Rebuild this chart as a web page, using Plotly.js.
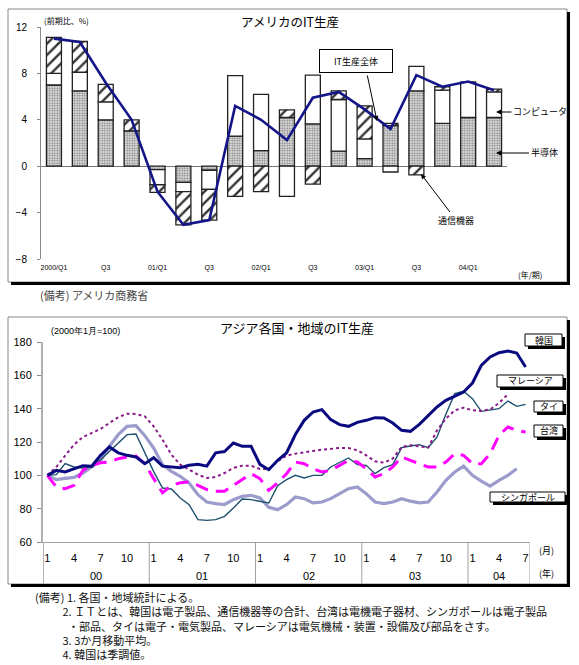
<!DOCTYPE html>
<html><head><meta charset="utf-8">
<script src="https://cdn.plot.ly/plotly-3.0.1.min.js"></script>
<style>html,body{margin:0;padding:0;background:#fff;}#chart{width:579px;height:665px;}</style>
</head><body><div id="chart"></div>
<script>
// ---------- Top chart data: US IT production (q/q %, 2000Q1 - 2004Q2) ----------
const quarterLabels = ['2000/Q1','','Q3','','01/Q1','','Q3','','02/Q1','','Q3','','03/Q1','','Q3','','04/Q1',''];
const semiconductors = [7.0, 6.5, 4.0, 3.05, -0.3, -1.4, -0.35, 2.6, 1.35, 4.2, 3.65, 1.3, 0.65, 3.5, 6.5, 3.7, 4.2, 4.2];
const computers      = [1.0, 1.6, 1.55, 0.0, -1.3, -0.8, -1.65, 5.2, 4.85, -2.6, 4.2, 4.45, 1.7, -0.5, 2.1, 2.85, 3.05, 2.2];
const commEquipment  = [3.1, 2.65, 1.5, 0.95, -0.65, -2.85, -2.65, -2.6, -2.2, 0.65, -1.55, 0.75, 2.85, 0.2, -0.75, 0.3, 0.0, 0.25];
const itTotal        = [11.0, 10.7, 7.2, 4.0, -2.2, -5.05, -4.65, 5.2, 4.0, 2.25, 5.9, 6.4, 4.9, 3.2, 7.85, 6.85, 7.3, 6.55];

// ---------- Bottom chart data: Asian IT production (Jan 2000 = 100, monthly) ----------
const yearLabels = ['00','01','02','03','04'];
const korea = [100,103,102,104,105.8,105.5,112,117,113.5,112,111,107,110.6,105.5,105,104.6,106,106.6,105.5,113.5,114.3,119.4,117.4,117.4,106.6,103.4,109,113.4,124.5,133,138,139.4,133.4,130.4,129.4,131.8,133,134.6,134.4,131.4,127,126.4,130.6,136,141,145,147.4,150,155.4,166,171,173.6,174.6,173.4,165];
const malaysia = [100,105,111.8,118.4,123,125.4,127.8,131.4,134.8,137,136.8,135.4,129.4,121.4,112.4,106.4,103.4,100.4,98.4,99,101.4,104.4,105.8,105.8,103.8,103.8,108.4,111.8,113,114,114.6,115.4,116,116.4,116.4,115,112,108.4,107.6,110,117,118,117.4,116.6,127,134,139,140.6,139,138.6,139.6,143.4,148.6];
const thailand = [100,100.4,107,105,104.4,105,109.4,114.4,119.4,124.4,124.8,113.4,102.2,92.4,91.8,86.4,82.4,73.4,73,73.4,75.4,80.4,85.8,85.4,84.4,83.4,93.8,97.4,100,98.4,100,100,105,107.6,110.4,106.4,106,101,104.6,106.4,116.6,117.6,118.4,116.6,123,136.6,149,150.4,146,138.4,139.4,140,144.6,141.4,142.6];
const taiwan = [100,93,92,94,103,106,107.5,108,110,111,111.5,107,98,89.5,94,95.5,96,94,91.5,90.5,90.5,94,98,101,98,91,95.5,101,108,107,104,102,103,106,109,108,104,99,101,105,111,109,107,105,105,108,113,112,107,107,113,124,129,127,126];
const singapore = [100,97.4,98.2,98.8,101.4,105,108.8,117.4,124.4,129.4,129.8,123.8,116.4,106.4,102.4,99.4,95.4,88.4,84,83,82.5,85.4,87.4,88,86.4,80.8,79.4,82.4,87,86,83.5,84,86,89,92,93,89,84,83,84,86,84.5,83.5,84,90,97,102,105.5,100,96.5,93.5,97,100,104];

// ---------- Footnote lines ----------
const noteLines = [
  '(備考) 1. 各国・地域統計による。',
  '2. ＩＴとは、韓国は電子製品、通信機器等の合計、台湾は電機電子器材、シンガポールは電子製品',
  '・部品、タイは電子・電気製品、マレーシアは電気機械・装置・設備及び部品をさす。',
  '3. 3か月移動平均。',
  '4. 韓国は季調値。'
];
const noteIndents = ['', '\u3000\u3000\u2002', '\u3000\u3000\u3000', '\u3000\u3000\u2002', '\u3000\u3000\u2002'];

const W = 579, H = 665;
const PX = v => v / W, PY = v => 1 - v / H;
const JP = '"Noto Sans CJK JP", "Liberation Sans", sans-serif';
const NUM = '"Liberation Sans", Arial, sans-serif';

const qIdx = quarterLabels.map((_, i) => i);
const monthIdx = n => Array.from({length: n}, (_, i) => i);
const monthTicks = monthIdx(55);
const monthText = monthTicks.map(i => { const m = i % 12 + 1; return (m % 3 === 1) ? String(m) : ''; });

const barLine = {color: '#222', width: 1.3};
const traces = [
  {type: 'bar', x: qIdx, y: semiconductors, xaxis: 'x', yaxis: 'y',
   marker: {color: '#fff', line: barLine, pattern: {shape: '.', fgcolor: '#888', bgcolor: '#f4f4f4', size: 2.5, solidity: 0.5}}},
  {type: 'bar', x: qIdx, y: computers, xaxis: 'x', yaxis: 'y',
   marker: {color: '#fff', line: barLine}},
  {type: 'bar', x: qIdx, y: commEquipment, xaxis: 'x', yaxis: 'y',
   marker: {color: '#fff', line: barLine, pattern: {shape: '/', fgcolor: '#333', bgcolor: '#fff', size: 8, solidity: 0.3}}},
  {type: 'scatter', mode: 'lines', x: qIdx, y: itTotal, xaxis: 'x', yaxis: 'y',
   line: {color: '#15158a', width: 2.6}},
  {type: 'scatter', mode: 'lines', x: monthIdx(singapore.length), y: singapore, xaxis: 'x2', yaxis: 'y2',
   line: {color: '#9b9bcc', width: 3.2}},
  {type: 'scatter', mode: 'lines', x: monthIdx(thailand.length), y: thailand, xaxis: 'x2', yaxis: 'y2',
   line: {color: '#1d4f6e', width: 1.4}},
  {type: 'scatter', mode: 'lines', x: monthIdx(malaysia.length), y: malaysia, xaxis: 'x2', yaxis: 'y2',
   line: {color: '#8a1a8a', width: 2, dash: 'dot'}},
  {type: 'scatter', mode: 'lines', x: monthIdx(taiwan.length), y: taiwan, xaxis: 'x2', yaxis: 'y2',
   line: {color: '#ff00ff', width: 3, dash: '13px,8px'}},
  {type: 'scatter', mode: 'lines', x: monthIdx(korea.length), y: korea, xaxis: 'x2', yaxis: 'y2',
   line: {color: '#0a0a80', width: 3}}
];

function rectShape(x0, y0, x1, y1, opts) {
  return Object.assign({type: 'rect', xref: 'paper', yref: 'paper', x0: PX(x0), x1: PX(x1), y0: PY(y1), y1: PY(y0)}, opts);
}
function lineShape(x0, y0, x1, y1, color, width, layer) {
  return {type: 'line', xref: 'paper', yref: 'paper', x0: PX(x0), x1: PX(x1), y0: PY(y0), y1: PY(y1),
          line: {color: color, width: width}, layer: layer || 'above'};
}
function labelBox(x0, y0, x1, y1) {
  return [
    rectShape(x0 + 3, y0 + 3, x1 + 3, y1 + 3, {fillcolor: '#000', line: {width: 0}, layer: 'above'}),
    rectShape(x0, y0, x1, y1, {fillcolor: '#fff', line: {color: '#000', width: 1}, layer: 'above'})
  ];
}

const shapes = [
  rectShape(8, 9, 567, 282, {line: {color: '#888', width: 1}, layer: 'below'}),
  lineShape(568.5, 12, 568.5, 285, '#000', 3),
  lineShape(11, 283.5, 570, 283.5, '#000', 3),
  rectShape(8, 317, 567, 584, {line: {color: '#888', width: 1}, layer: 'below'}),
  lineShape(568.5, 320, 568.5, 587, '#000', 3),
  lineShape(11, 585.5, 570, 585.5, '#000', 3),
  ...labelBox(525, 334, 562, 346),
  ...labelBox(497, 375, 563, 387),
  ...labelBox(534, 401, 563, 412),
  ...labelBox(534, 425, 563, 437),
  ...labelBox(490, 492, 565, 502)
];
[-0.5, 11.5, 23.5, 35.5, 47.5, 54.5].forEach((v, i) => {
  shapes.push({type: 'line', xref: 'x2', yref: 'paper', x0: v, x1: v, y0: PY(584), y1: PY(542),
               line: {color: i === 0 ? '#b0b0b0' : '#a0a0a0', width: i === 0 ? 2 : 1}, layer: 'above'});
});

function txt(text, x, y, size, opts) {
  return Object.assign({text: text, xref: 'paper', yref: 'paper', x: PX(x), y: PY(y), showarrow: false,
    font: {family: JP, size: size, color: '#000'}, xanchor: 'center', yanchor: 'middle'}, opts || {});
}
function arrowAnn(text, px, py, ax, ay, size) {
  return {text: text, xref: 'paper', yref: 'paper', x: PX(px), y: PY(py), ax: ax, ay: ay, showarrow: true,
    arrowhead: 2, arrowsize: 1, arrowwidth: 1, arrowcolor: '#000', font: {family: JP, size: size, color: '#000'}};
}

const annotations = [
  txt('アメリカのIT生産', 290, 22, 12.5),
  txt('(前期比、%)', 42, 20, 8, {xanchor: 'left'}),
  txt('IT生産全体', 356, 61, 9, {bordercolor: '#000', borderwidth: 1, bgcolor: '#fff', borderpad: 3, width: 66, height: 16}),
  arrowAnn('', 377, 121, -10, -47, 9),
  arrowAnn('コンピュータ', 496, 112, 44, 0, 9),
  arrowAnn('半導体', 496, 153, 48, 0, 9),
  arrowAnn('通信機器', 421, 174, 35, 46, 9),
  txt('(年/期)', 530, 275, 8),
  txt('(備考) アメリカ商務省', 38, 295, 11, {xanchor: 'left', font: {family: JP, size: 11, color: '#444'}}),
  txt('アジア各国・地域のIT生産', 297, 327, 13),
  txt('(2000年1月=100)', 49, 331, 9, {xanchor: 'left', font: {family: NUM, size: 9, color: '#000'}}),
  txt('韓国', 543.5, 340, 9),
  txt('マレーシア', 530, 381, 9),
  txt('タイ', 548.5, 406.5, 9),
  txt('台湾', 548.5, 431, 9),
  txt('シンガポール', 527.5, 497, 9),
  txt('(月)', 546, 550, 9),
  txt('(年)', 546, 573, 9),
  txt(noteLines.map((l, i) => noteIndents[i] + l).join('<br>'), 33, 625, 11,
      {xanchor: 'left', align: 'left', font: {family: JP, size: 11, color: '#111'}})
];
yearLabels.forEach((lab, i) => {
  const start = i * 12, end = Math.min(i * 12 + 11, 54);
  annotations.push({text: lab, xref: 'x2', yref: 'paper', x: (start + end) / 2, y: PY(576), showarrow: false,
    font: {family: NUM, size: 11, color: '#000'}, xanchor: 'center', yanchor: 'middle'});
});

const layout = {
  width: W, height: H, margin: {l: 0, r: 0, t: 0, b: 0},
  paper_bgcolor: '#fff', plot_bgcolor: 'rgba(0,0,0,0)', showlegend: false,
  barmode: 'relative', bargap: 0.42,
  xaxis: {domain: [PX(41), PX(507)], range: [-0.5, 17.5], anchor: 'y', tickvals: qIdx, ticktext: quarterLabels,
          ticks: '', showline: false, showgrid: false, zeroline: false, ticklabelstandoff: 3,
          tickfont: {family: NUM, size: 7, color: '#000'}, tickangle: 0},
  yaxis: {domain: [PY(259), PY(27)], range: [-8, 12], anchor: 'x', tickvals: [-8, -4, 0, 4, 8, 12],
          ticks: 'outside', ticklen: 3, tickcolor: '#888', showline: true, linecolor: '#888', linewidth: 1,
          showgrid: false, zeroline: true, zerolinecolor: '#777', zerolinewidth: 1, ticklabelstandoff: 8,
          tickfont: {family: NUM, size: 10, color: '#000'}},
  xaxis2: {domain: [PX(43), PX(530)], range: [-0.5, 54.5], anchor: 'y2', tickvals: monthTicks, ticktext: monthText,
           ticks: '', showline: true, linecolor: '#a0a0a0', linewidth: 1, showgrid: false, zeroline: false,
           ticklabelstandoff: 6, tickfont: {family: NUM, size: 11, color: '#000'}, tickangle: 0},
  yaxis2: {domain: [PY(542), PY(342)], range: [60, 180], anchor: 'x2', tickvals: [60, 80, 100, 120, 140, 160, 180],
           ticks: 'outside', ticklen: 4, tickcolor: '#888', showline: true, linecolor: '#b0b0b0', linewidth: 2,
           showgrid: false, zeroline: false, ticklabelstandoff: 3,
           tickfont: {family: NUM, size: 11, color: '#000'}},
  shapes: shapes, annotations: annotations
};

Plotly.newPlot('chart', traces, layout, {displayModeBar: false, staticPlot: true});
</script></body></html>
